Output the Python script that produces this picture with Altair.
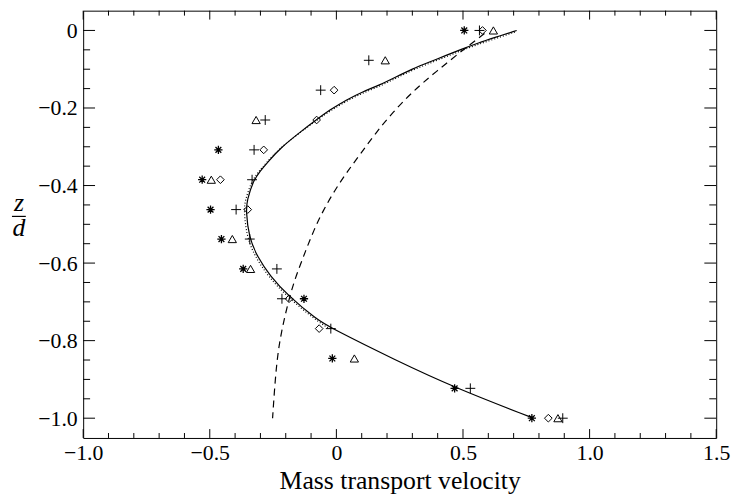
import altair as alt
import pandas as pd

# ---------------- data ----------------
# symbol series: "+" , diamond, triangle, asterisk
plus_x = [0.565, 0.128, -0.062, -0.281, -0.325, -0.333, -0.396, -0.342, -0.235, -0.215, -0.022, 0.529, 0.894]
plus_z = [0.0, -0.077, -0.154, -0.231, -0.308, -0.385, -0.462, -0.538, -0.615, -0.692, -0.769, -0.923, -1.0]

diam_x = [0.577, -0.009, -0.078, -0.287, -0.458, -0.350, -0.187, -0.068, 0.837]
diam_z = [0.0, -0.154, -0.231, -0.308, -0.385, -0.462, -0.692, -0.769, -1.0]

tri_x = [0.620, 0.193, -0.317, -0.494, -0.411, -0.339, 0.071, 0.875]
tri_z = [0.0, -0.077, -0.231, -0.385, -0.538, -0.615, -0.846, -1.0]

ast_x = [0.505, -0.466, -0.530, -0.497, -0.454, -0.368, -0.128, -0.016, 0.467, 0.772]
ast_z = [0.0, -0.308, -0.385, -0.462, -0.538, -0.615, -0.692, -0.846, -0.923, -1.0]

# solid theory curve
solid_x = [0.712, 0.627, 0.561, 0.496, 0.431, 0.365, 0.300, 0.235, 0.170, 0.104, 0.039, -0.026,
           -0.078, -0.143, -0.221, -0.273, -0.300, -0.329, -0.353, -0.357, -0.346, -0.313,
           -0.261, -0.189, -0.078, -0.026, 0.235, 0.470, 0.770]
solid_z = [0.000, -0.018, -0.032, -0.048, -0.065, -0.082, -0.099, -0.120, -0.141, -0.158, -0.179, -0.205,
           -0.230, -0.262, -0.303, -0.341, -0.362, -0.388, -0.439, -0.464, -0.532, -0.583,
           -0.634, -0.685, -0.745, -0.766, -0.851, -0.922, -0.998]

# dotted curve (almost on the solid one)
dot_x = [0.705, 0.625, 0.559, 0.494, 0.429, 0.363, 0.298, 0.233, 0.168, 0.102, 0.037, -0.028,
         -0.081, -0.147, -0.226, -0.279, -0.307, -0.336, -0.361, -0.365, -0.354, -0.320,
         -0.267, -0.194, -0.082, -0.030]
dot_z = [-0.004, -0.022, -0.036, -0.052, -0.069, -0.086, -0.103, -0.124, -0.145, -0.162, -0.183, -0.209,
         -0.233, -0.265, -0.305, -0.343, -0.364, -0.390, -0.440, -0.465, -0.533, -0.585,
         -0.636, -0.687, -0.747, -0.768]

# dashed curve
dash_x = [0.585, 0.514, 0.392, 0.300, 0.222, 0.157, 0.098, 0.043, -0.007, -0.052, -0.089, -0.120,
          -0.150, -0.180, -0.219, -0.238, -0.252]
dash_z = [-0.008, -0.043, -0.107, -0.158, -0.212, -0.263, -0.316, -0.364, -0.413, -0.464, -0.515, -0.566,
          -0.617, -0.673, -0.779, -0.864, -1.0]

# axis ticks / labels
x_major = [-1.0, -0.5, 0.0, 0.5, 1.0, 1.5]
x_minor = [-0.9, -0.8, -0.7, -0.6, -0.4, -0.3, -0.2, -0.1, 0.1, 0.2, 0.3, 0.4,
           0.6, 0.7, 0.8, 0.9, 1.1, 1.2, 1.3, 1.4]
y_major = [0.0, -0.2, -0.4, -0.6, -0.8, -1.0]
y_minor = [-0.05, -0.1, -0.15, -0.25, -0.3, -0.35, -0.45, -0.5, -0.55,
           -0.65, -0.7, -0.75, -0.85, -0.9, -0.95]

x_title = "Mass transport velocity"
y_num = "z"
y_den = "d"

# ---------------- chart ----------------
W, H = 640, 432
FONT = "Liberation Serif"
xs = alt.Scale(domain=[-1.0, 1.5], nice=False, zero=False)
ys = alt.Scale(domain=[-1.051, 0.051], nice=False, zero=False)
lab = "datum.value == 0 ? '0' : format(datum.value, '.1f')"

x_axis = alt.Axis(values=x_major, labelExpr=lab, ticks=False, tickSize=0, domain=False, grid=False,
                  labelFlush=False, labelOverlap=False, labelFont=FONT, labelFontSize=22,
                  labelColor="black", labelPadding=5, title=x_title, titlePadding=4,
                  titleFont=FONT, titleFontSize=26, titleColor="black", titleFontWeight="normal")
y_axis = alt.Axis(values=y_major, labelExpr=lab, ticks=False, tickSize=0, domain=False, grid=False,
                  labelFlush=False, labelOverlap=False, labelFont=FONT, labelFontSize=22,
                  labelColor="black", labelPadding=6, title="")


def X(f):
    return alt.X(f, type="quantitative", scale=xs, axis=x_axis)


def Y(f):
    return alt.Y(f, type="quantitative", scale=ys, axis=y_axis)


def sym(xv, zv, shape, size, sw):
    df = pd.DataFrame({"x": xv, "z": zv})
    return alt.Chart(df).mark_point(shape=shape, size=size, filled=False, color="black",
                                    strokeWidth=sw, opacity=1).encode(x=X("x"), y=Y("z"))


def curve(xv, zv, dash=None, sw=1.2):
    df = pd.DataFrame({"x": xv, "z": zv, "i": list(range(len(xv)))})
    kw = dict(color="black", strokeWidth=sw, interpolate="basis")
    if dash is not None:
        kw["strokeDash"] = dash
    return alt.Chart(df).mark_line(**kw).encode(x=X("x"), y=Y("z"), order=alt.Order("i:Q"))


def xticks(vals, y0, y1):
    return alt.Chart(pd.DataFrame({"v": vals})).mark_rule(color="black", strokeWidth=1).encode(
        x=X("v"), y=alt.value(y0), y2=alt.value(y1))


def yticks(vals, x0, x1):
    return alt.Chart(pd.DataFrame({"v": vals})).mark_rule(color="black", strokeWidth=1).encode(
        y=Y("v"), x=alt.value(x0), x2=alt.value(x1))


plus_path = "M-1,0L1,0M0,-1L0,1"
ast_path = "M-1,0L1,0M0,-1L0,1M-0.7,-0.7L0.7,0.7M-0.7,0.7L0.7,-0.7"

one = pd.DataFrame({"a": [0]})
num = alt.Chart(one).mark_text(text=y_num, font=FONT, fontSize=26, fontStyle="italic",
                               align="center", baseline="alphabetic", color="black").encode(
    x=alt.value(-65), y=alt.value(203))
den = alt.Chart(one).mark_text(text=y_den, font=FONT, fontSize=26, fontStyle="italic",
                               align="center", baseline="alphabetic", color="black").encode(
    x=alt.value(-65), y=alt.value(228))
bar = alt.Chart(one).mark_rule(color="black", strokeWidth=1.2).encode(
    x=alt.value(-72), x2=alt.value(-58), y=alt.value(208))

layers = [
    xticks(x_major, H, H - 9), xticks(x_minor, H, H - 5),
    xticks(x_major, 0, 9), xticks(x_minor, 0, 5),
    yticks(y_major, 0, 12), yticks(y_minor, 0, 7),
    yticks(y_major, W, W - 12), yticks(y_minor, W, W - 7),
    curve(dot_x, dot_z, dash=[1, 2], sw=1.2),
    curve(solid_x, solid_z, sw=1.2),
    curve(dash_x, dash_z, dash=[7, 5], sw=1.2),
    sym(plus_x, plus_z, plus_path, 100, 1),
    sym(diam_x, diam_z, "diamond", 60, 1),
    sym(tri_x, tri_z, "triangle-up", 70, 1),
    sym(ast_x, ast_z, ast_path, 70, 1.3),
    num, den, bar,
]

chart = alt.layer(*layers).properties(
    width=W, height=H,
    autosize=alt.AutoSizeParams(type="none"),
    padding={"left": 76, "top": 0, "right": 19, "bottom": 58},
).configure_view(stroke="black", strokeWidth=1).configure_axis(
    labelFont=FONT, labelFontSize=22, labelColor="black",
    titleFont=FONT, titleFontSize=26, titleColor="black", titleFontWeight="normal",
)

chart.save("out.html", embed_options={"renderer": "svg", "actions": False})
